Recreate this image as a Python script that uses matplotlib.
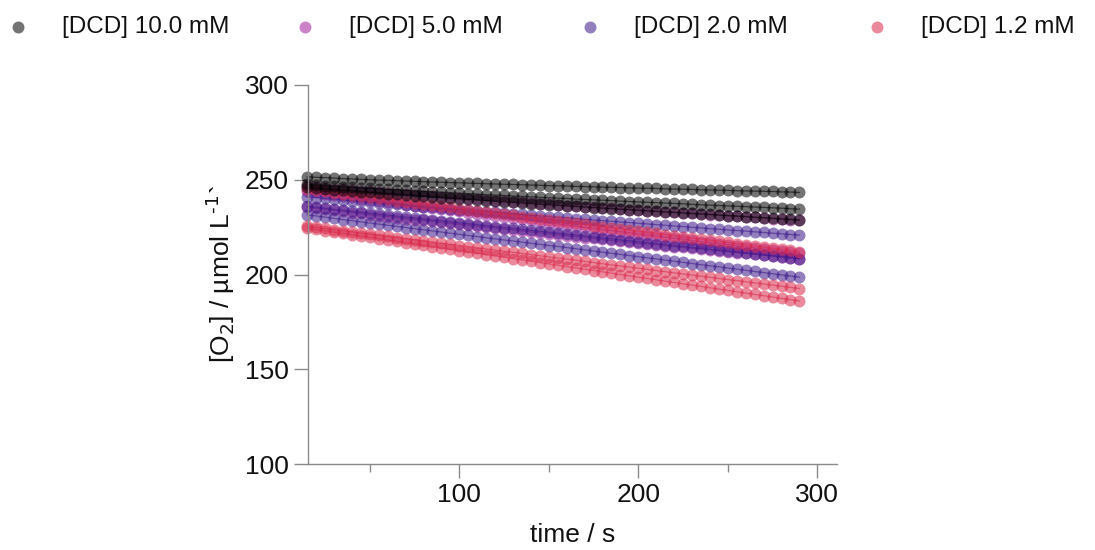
import matplotlib
matplotlib.use("Agg")
import matplotlib.pyplot as plt
from matplotlib.lines import Line2D

plt.rcParams["font.family"] = ["Liberation Sans", "DejaVu Sans"]

# sampling times (s)
time_s = list(range(15, 291, 5))

# oxygen concentration traces, µmol/L, three runs per DCD concentration
o2_10mM_a = [251.5, 251.3, 251.1, 250.9, 250.6, 250.4, 250.2, 250.0, 249.8, 249.7,
             249.5, 249.3, 249.2, 249.0, 248.8, 248.7, 248.5, 248.4, 248.2, 248.1,
             247.9, 247.8, 247.6, 247.5, 247.4, 247.2, 247.1, 246.9, 246.8, 246.7,
             246.5, 246.4, 246.3, 246.1, 246.0, 245.9, 245.7, 245.6, 245.5, 245.4,
             245.2, 245.1, 245.0, 244.9, 244.7, 244.6, 244.5, 244.4, 244.2, 244.1,
             244.0, 243.9, 243.8, 243.6, 243.5, 243.3]
o2_10mM_b = [247.5, 247.2, 246.9, 246.6, 246.3, 246.0, 245.7, 245.5, 245.2, 244.9,
             244.7, 244.4, 244.1, 243.9, 243.6, 243.4, 243.1, 242.9, 242.6, 242.4,
             242.1, 241.9, 241.7, 241.4, 241.2, 241.0, 240.7, 240.5, 240.3, 240.1,
             239.8, 239.6, 239.4, 239.2, 239.0, 238.7, 238.5, 238.3, 238.1, 237.9,
             237.7, 237.5, 237.3, 237.0, 236.8, 236.6, 236.4, 236.2, 236.0, 235.8,
             235.6, 235.4, 235.2, 235.0, 234.7, 234.5]
o2_10mM_c = [246.0, 245.6, 245.2, 244.8, 244.4, 244.1, 243.7, 243.3, 243.0, 242.6,
             242.3, 241.9, 241.6, 241.2, 240.9, 240.6, 240.2, 239.9, 239.6, 239.3,
             239.0, 238.6, 238.3, 238.0, 237.7, 237.4, 237.1, 236.8, 236.5, 236.2,
             235.9, 235.6, 235.3, 235.0, 234.7, 234.4, 234.2, 233.9, 233.6, 233.3,
             233.0, 232.8, 232.5, 232.2, 232.0, 231.7, 231.4, 231.1, 230.9, 230.6,
             230.3, 230.0, 229.7, 229.4, 229.1, 228.8]

o2_5mM_a = [246.5, 246.1, 245.7, 245.3, 244.9, 244.5, 244.1, 243.8, 243.4, 243.0,
            242.7, 242.3, 242.0, 241.6, 241.3, 240.9, 240.6, 240.3, 239.9, 239.6,
            239.3, 238.9, 238.6, 238.3, 238.0, 237.7, 237.4, 237.0, 236.7, 236.4,
            236.1, 235.8, 235.5, 235.2, 234.9, 234.6, 234.3, 234.0, 233.7, 233.4,
            233.1, 232.8, 232.5, 232.2, 231.9, 231.6, 231.3, 231.0, 230.7, 230.4,
            230.1, 229.8, 229.5, 229.2, 228.9, 228.6]
o2_5mM_b = [235.5, 234.9, 234.4, 233.8, 233.3, 232.7, 232.2, 231.6, 231.1, 230.6,
            230.0, 229.5, 229.0, 228.5, 228.0, 227.5, 227.0, 226.5, 226.0, 225.5,
            225.0, 224.5, 224.0, 223.5, 223.0, 222.5, 222.0, 221.5, 221.0, 220.5,
            220.0, 219.5, 219.0, 218.5, 218.0, 217.6, 217.1, 216.6, 216.1, 215.7,
            215.2, 214.7, 214.3, 213.8, 213.4, 212.9, 212.5, 212.0, 211.6, 211.1,
            210.7, 210.2, 209.8, 209.3, 208.9, 208.4]
o2_5mM_c = [244.0, 243.3, 242.7, 242.0, 241.4, 240.7, 240.1, 239.4, 238.8, 238.2,
            237.5, 236.9, 236.3, 235.7, 235.1, 234.5, 233.9, 233.3, 232.7, 232.1,
            231.5, 230.9, 230.3, 229.7, 229.1, 228.5, 227.9, 227.3, 226.7, 226.1,
            225.5, 224.9, 224.3, 223.7, 223.2, 222.6, 222.0, 221.4, 220.8, 220.3,
            219.7, 219.1, 218.6, 218.0, 217.4, 216.9, 216.3, 215.8, 215.2, 214.6,
            214.1, 213.5, 213.0, 212.4, 211.9, 211.3]

o2_2mM_a = [241.0, 240.6, 240.2, 239.8, 239.4, 239.0, 238.6, 238.2, 237.8, 237.4,
            237.0, 236.6, 236.2, 235.8, 235.4, 235.0, 234.7, 234.3, 233.9, 233.5,
            233.2, 232.8, 232.4, 232.0, 231.7, 231.3, 230.9, 230.6, 230.2, 229.9,
            229.5, 229.1, 228.8, 228.4, 228.1, 227.7, 227.4, 227.0, 226.7, 226.3,
            226.0, 225.6, 225.3, 224.9, 224.6, 224.2, 223.9, 223.5, 223.2, 222.9,
            222.5, 222.2, 221.8, 221.5, 221.1, 220.8]
o2_2mM_b = [231.5, 230.9, 230.3, 229.6, 229.0, 228.4, 227.8, 227.2, 226.6, 226.0,
            225.4, 224.8, 224.2, 223.6, 223.0, 222.4, 221.8, 221.2, 220.6, 220.0,
            219.4, 218.8, 218.2, 217.7, 217.1, 216.5, 215.9, 215.3, 214.8, 214.2,
            213.6, 213.0, 212.4, 211.8, 211.2, 210.6, 210.0, 209.4, 208.8, 208.2,
            207.6, 207.0, 206.4, 205.8, 205.2, 204.6, 204.0, 203.4, 202.8, 202.2,
            201.6, 201.0, 200.4, 199.8, 199.2, 198.6]
o2_2mM_c = [236.0, 235.5, 235.0, 234.4, 233.9, 233.4, 232.9, 232.4, 231.9, 231.4,
            230.8, 230.3, 229.8, 229.3, 228.8, 228.3, 227.8, 227.3, 226.8, 226.3,
            225.8, 225.3, 224.8, 224.3, 223.8, 223.3, 222.8, 222.3, 221.8, 221.3,
            220.8, 220.3, 219.8, 219.3, 218.8, 218.3, 217.8, 217.3, 216.8, 216.3,
            215.8, 215.3, 214.8, 214.3, 213.8, 213.3, 212.8, 212.3, 211.8, 211.3,
            210.8, 210.3, 209.8, 209.3, 208.8, 208.3]

o2_1p2mM_a = [245.0, 244.4, 243.8, 243.2, 242.6, 242.0, 241.4, 240.8, 240.2, 239.6,
              239.0, 238.4, 237.8, 237.2, 236.6, 236.0, 235.4, 234.8, 234.2, 233.6,
              233.0, 232.4, 231.8, 231.2, 230.6, 230.0, 229.4, 228.8, 228.2, 227.6,
              227.0, 226.4, 225.8, 225.2, 224.6, 224.0, 223.4, 222.8, 222.3, 221.7,
              221.1, 220.5, 219.9, 219.3, 218.7, 218.1, 217.5, 216.9, 216.3, 215.7,
              215.1, 214.5, 213.9, 213.3, 212.7, 212.1]
o2_1p2mM_b = [225.5, 224.9, 224.3, 223.7, 223.1, 222.5, 221.9, 221.3, 220.7, 220.1,
              219.5, 218.9, 218.3, 217.7, 217.1, 216.5, 215.9, 215.3, 214.7, 214.1,
              213.5, 212.9, 212.3, 211.7, 211.1, 210.5, 209.9, 209.3, 208.7, 208.1,
              207.5, 206.9, 206.3, 205.7, 205.1, 204.5, 203.9, 203.3, 202.7, 202.1,
              201.5, 200.9, 200.3, 199.7, 199.1, 198.5, 197.9, 197.3, 196.8, 196.2,
              195.6, 195.0, 194.4, 193.8, 193.2, 192.6]
o2_1p2mM_c = [224.5, 223.8, 223.1, 222.4, 221.7, 221.0, 220.3, 219.6, 218.9, 218.2,
              217.5, 216.8, 216.1, 215.4, 214.7, 214.0, 213.3, 212.6, 211.9, 211.2,
              210.5, 209.8, 209.1, 208.4, 207.7, 207.0, 206.3, 205.6, 204.9, 204.2,
              203.5, 202.8, 202.1, 201.4, 200.7, 200.0, 199.3, 198.6, 197.9, 197.2,
              196.5, 195.8, 195.1, 194.4, 193.7, 193.0, 192.3, 191.6, 190.9, 190.2,
              189.5, 188.8, 188.1, 187.4, 186.7, 186.0]

labels = ["[DCD] 10.0 mM", "[DCD] 5.0 mM", "[DCD] 2.0 mM", "[DCD] 1.2 mM"]
colors = ["#000000", "#a21c98", "#3a1688", "#d9284a"]
traces = [
    [o2_10mM_a, o2_10mM_b, o2_10mM_c],
    [o2_5mM_a, o2_5mM_b, o2_5mM_c],
    [o2_2mM_a, o2_2mM_b, o2_2mM_c],
    [o2_1p2mM_a, o2_1p2mM_b, o2_1p2mM_c],
]
draw_order = [1, 2, 3, 0]   # 5 mM, 2 mM, 1.2 mM, then 10 mM on top
ALPHA = 0.55
MSIZE = 8.6
TXT = "#111111"

fig = plt.figure(figsize=(10.95, 5.5), dpi=100)
W, H = 1095, 550
ax = fig.add_axes([308 / W, 1 - 464 / H, (837 - 308) / W, (464 - 85) / H])

for k in draw_order:
    for run in traces[k]:
        ax.plot(time_s, run, color=colors[k], alpha=ALPHA, lw=0.9, marker="o",
                markersize=MSIZE, markeredgewidth=0, clip_on=False)

ax.set_xlim(15.5, 311)
ax.set_ylim(100, 300)
ax.set_xticks([100, 200, 300])
ax.set_xticks([50, 150, 250], minor=True)
ax.set_yticks([100, 150, 200, 250, 300])

axis_grey = "#8a8a8a"
for side in ("top", "right"):
    ax.spines[side].set_visible(False)
for side in ("left", "bottom"):
    ax.spines[side].set_color(axis_grey)
    ax.spines[side].set_linewidth(1.0)

ax.tick_params(axis="both", which="major", direction="out", length=10,
               width=1.0, color=axis_grey, labelsize=19, labelcolor=TXT, pad=4)
ax.tick_params(axis="x", which="minor", direction="out", length=6,
               width=1.0, color=axis_grey)

ax.set_xlabel("time / s", fontsize=19, color=TXT, labelpad=11)
ax.set_ylabel(r"[O$_2$] / µmol L$^{\text{-}1}$`", fontsize=19, color=TXT)
ax.yaxis.set_label_coords(-0.135, 0.5)

# legend row across the top of the figure
legend_x = [18, 305, 590, 877]
legend_y = 1 - 27 / H
for lx, lab, col in zip(legend_x, labels, colors):
    fig.add_artist(Line2D([lx / W], [legend_y], transform=fig.transFigure,
                          marker="o", markersize=MSIZE, markeredgewidth=0,
                          color=col, alpha=ALPHA, linestyle="none"))
    fig.text((lx + 44) / W, legend_y, lab, fontsize=17.5, color=TXT,
             ha="left", va="center")

fig.savefig("out.png", dpi=100)
